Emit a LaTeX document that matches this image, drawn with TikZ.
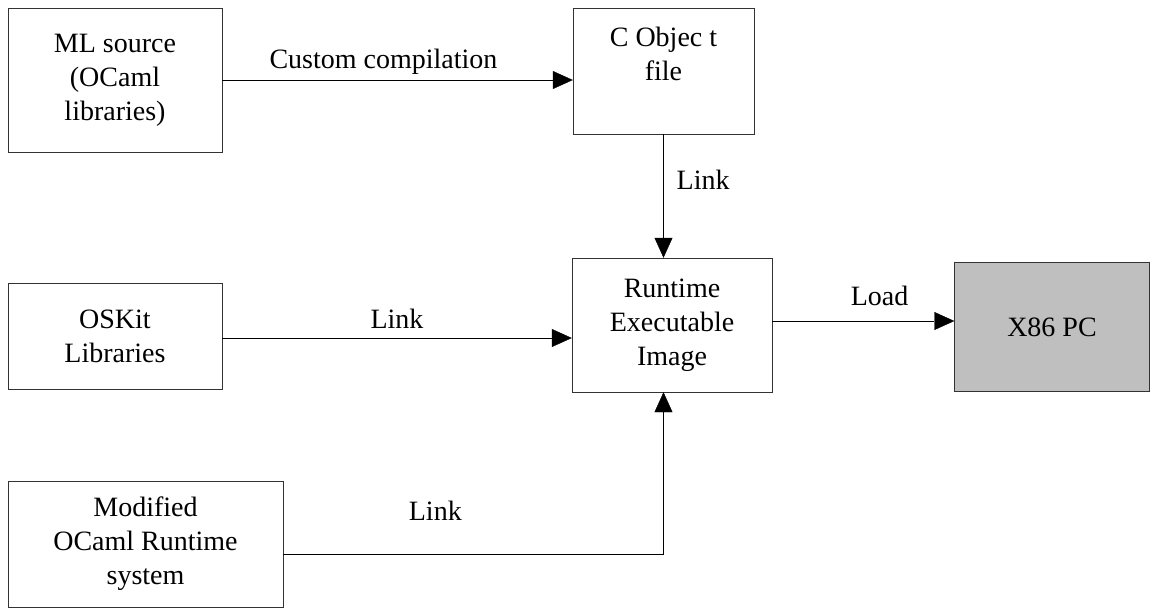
\documentclass[tikz,border=0pt]{standalone}
\usepackage{fontspec}
\setmainfont{Liberation Serif}
\usetikzlibrary{arrows.meta,calc,positioning}
\tikzset{
    -{Triangle[length=20pt,width=18pt]},auto,line width=3pt,
    box/.style ={rectangle, draw=black!80, fill=white, inner sep=0pt, align=center,
                 font=\fontsize{28}{34}\selectfont},
    pcbox/.style={box, fill=black!25},
    el/.style = {inner sep=3pt, font=\fontsize{28}{34}\selectfont}
}
\begin{document}
\begin{tikzpicture}[x=1pt,y=-1pt]
    \useasboundingbox (0,0) rectangle (1154,611);

    \node[box, minimum width=214pt, minimum height=144pt] (ml) at (115,80)
        {ML source\\(OCaml\\libraries)};
    \node[box, minimum width=181pt, minimum height=126pt] (cobj) at (663.5,71)
        {C Objec t\\file\\\mbox{}};

    % middle row
    \node[box, minimum width=214pt, minimum height=106pt] (osk) at (115,336)
        {OSKit\\Libraries};
    \node[box, minimum width=200pt, minimum height=134pt] (rt) at (672,325)
        {Runtime\\Executable\\Image};
    \node[pcbox, minimum width=195pt, minimum height=129pt] (pc) at (1052,327)
        {X86 PC};

    \node[box, minimum width=275pt, minimum height=126pt] (mod) at (145.5,544)
        {Modified\\OCaml Runtime\\system};

    % compile and link
    \path (ml.east) edge node[el, above, pos=0.46, yshift=2pt] {Custom compilation}
        (ml.east -| cobj.west);
    \path (cobj.south) edge node[el, right, pos=0.37, xshift=10pt] {Link}
        (cobj.south |- rt.north);
    \path ([yshift=-2pt]osk.east) edge node[el, above, yshift=6pt] {Link}
        ([yshift=-2pt]osk.east -| rt.west);
    \draw ([yshift=-10pt]mod.east) -| node[el, above, pos=0.2, yshift=30pt] {Link}
        (cobj.south |- rt.south);

    % load
    \path ([yshift=4pt]rt.east) edge node[el, above, pos=0.59, yshift=12pt] {Load}
        ([yshift=4pt]rt.east -| pc.west);

\end{tikzpicture}
\end{document}
